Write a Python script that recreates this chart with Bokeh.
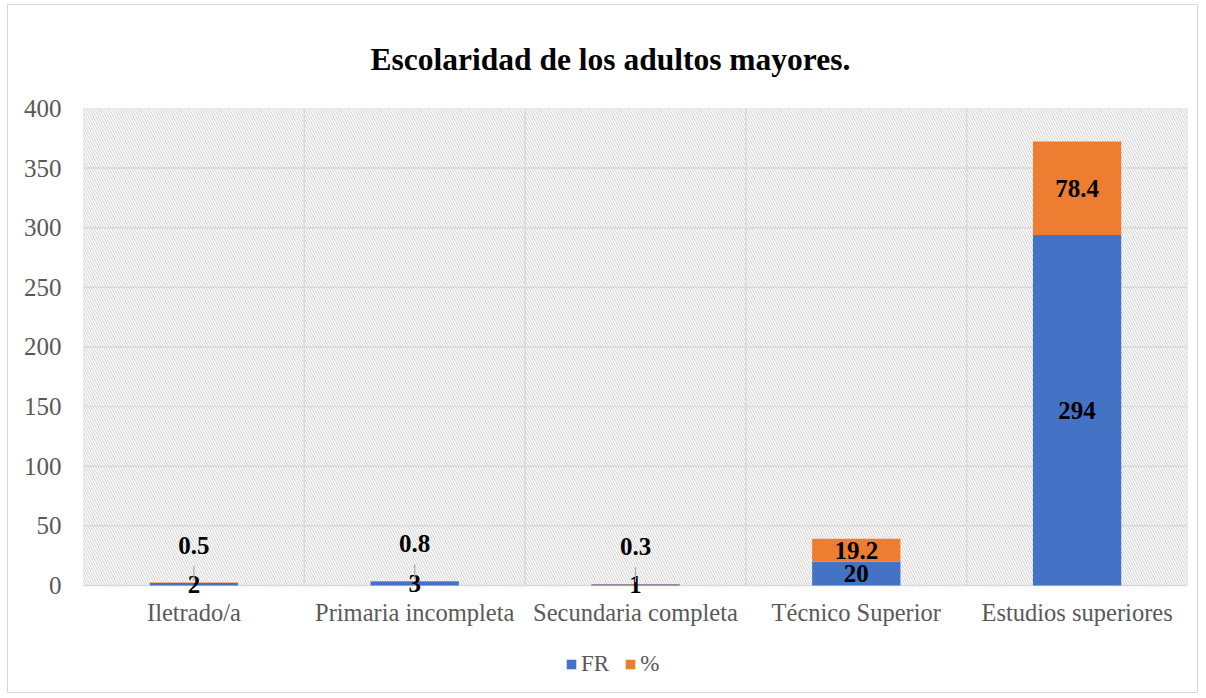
from bokeh.plotting import figure
from bokeh.models import (FixedTicker, Legend, LegendItem, ColumnDataSource, Title)
from bokeh.core.properties import value
from bokeh.embed import file_html
from bokeh.resources import INLINE

categories = ["Iletrado/a", "Primaria incompleta", "Secundaria completa", "Técnico Superior", "Estudios superiores"]
fr_values = [2, 3, 1, 20, 294]
pct_values = [0.5, 0.8, 0.3, 19.2, 78.4]
fr_labels = ["2", "3", "1", "20", "294"]
pct_labels = ["0.5", "0.8", "0.3", "19.2", "78.4"]
y_ticks = [0, 50, 100, 150, 200, 250, 300, 350, 400]

BLUE = "#4472C4"
ORANGE = "#ED7D31"
GRID = "#D9D9D9"
TXT = "#595959"
FONT = "Liberation Serif"

n = len(categories)
xs = [i + 0.5 for i in range(n)]

p = figure(width=1191, height=689, x_range=(0, n), y_range=(-86.4, 400),
           output_backend="svg", toolbar_location=None,
           min_border_left=75, min_border_right=12, min_border_top=103, min_border_bottom=6,
           background_fill_color="white", border_fill_color="white",
           outline_line_color=None,
           styles={"border": "1.5px solid #D9D9D9", "margin-left": "7px", "margin-top": "4px"})

title = Title(text="Escolaridad de los adultos mayores.", align="left",
              text_font=FONT, text_font_size="31.5px", text_font_style="bold",
              text_color="black", standoff=63, offset=287)
p.add_layout(title, "above")

p.xgrid.visible = False
p.ygrid.visible = False
p.xaxis.visible = False

# hatched background
p.quad(left=[0], right=[n], bottom=[y_ticks[0]], top=[y_ticks[-1]],
       fill_alpha=0, line_color=None, hatch_pattern="\\", hatch_color="#D0D0D0",
       hatch_scale=5, hatch_weight=1)

# grid lines
p.segment(x0=[0] * len(y_ticks), x1=[n] * len(y_ticks), y0=y_ticks, y1=y_ticks,
          line_color=GRID, line_width=1.5)
vx = list(range(n + 1))
p.segment(x0=vx, x1=vx, y0=[y_ticks[0]] * len(vx), y1=[y_ticks[-1]] * len(vx),
          line_color=GRID, line_width=1.5)

src = ColumnDataSource(dict(x=xs, FR=fr_values, pct=pct_values))
rs = p.vbar_stack(["FR", "pct"], x="x", width=0.4, color=[BLUE, ORANGE],
                  line_color=None, source=src)

# data labels
big_x, big_y, big_t = [], [], []
small_x, small_y, small_t = [], [], []
for i in range(n):
    big_x.append(xs[i]); big_y.append(fr_values[i] / 2); big_t.append(fr_labels[i])
    if pct_values[i] >= 5:
        big_x.append(xs[i]); big_y.append(fr_values[i] + pct_values[i] / 2); big_t.append(pct_labels[i])
    else:
        small_x.append(xs[i]); small_y.append(fr_values[i] + pct_values[i]); small_t.append(pct_labels[i])

p.text(x=big_x, y=big_y, text=big_t, text_font=value(FONT), text_font_size="25px",
       text_font_style="bold", text_color="black", text_align="center", text_baseline="middle")
p.text(x=small_x, y=small_y, text=small_t, text_font=value(FONT), text_font_size="25px",
       text_font_style="bold", text_color="black", text_align="center", text_baseline="middle",
       y_offset=-37)
p.segment(x0=small_x, x1=small_x, y0=[v + 1.5 for v in small_y], y1=[v + 14 for v in small_y],
          line_color="#A6A6A6", line_width=1.2)

# category labels (x axis)
p.text(x=xs, y=[y_ticks[0]] * n, text=categories, text_font=value(FONT), text_font_size="24.5px",
       text_color=TXT, text_align="center", text_baseline="middle", y_offset=27)

# y axis
p.yaxis.ticker = FixedTicker(ticks=y_ticks)
p.yaxis.axis_line_color = None
p.yaxis.major_tick_line_color = None
p.yaxis.minor_tick_line_color = None
p.yaxis.major_label_text_font = FONT
p.yaxis.major_label_text_font_size = "25px"
p.yaxis.major_label_text_color = TXT
p.yaxis.major_label_standoff = 16

legend = Legend(items=[LegendItem(label="FR", renderers=[rs[0]]),
                       LegendItem(label="%", renderers=[rs[1]])],
                orientation="horizontal", location=(482, 11),
                label_text_font=FONT, label_text_font_size="23px", label_text_color=TXT,
                glyph_width=12, glyph_height=12, border_line_color=None,
                background_fill_alpha=0, spacing=15, label_standoff=4, margin=0, padding=10)
p.add_layout(legend, "center")

open("out.html", "w").write(file_html(p, INLINE))
